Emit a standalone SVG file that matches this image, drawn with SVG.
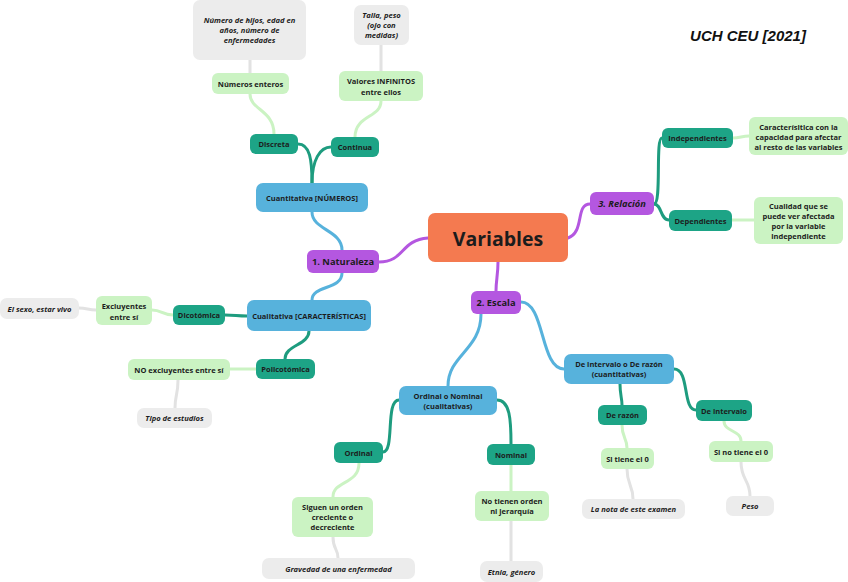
<svg xmlns="http://www.w3.org/2000/svg" width="848" height="582" viewBox="0 0 848 582">
<style>
text{font-family:"Open Sans","Noto Sans","DejaVu Sans",sans-serif;fill:#1c1c1c;text-anchor:middle;dominant-baseline:central}
.t{font-size:7.5px;font-weight:700}
.i{font-size:7.6px;font-weight:700;font-style:italic}
.l1{font-size:9.3px;font-weight:700}
.root{fill:#F47A50}
.pur{fill:#B457E0}
.blu{fill:#57B2DC}
.tea{fill:#1DA486}
.lgr{fill:#CBF3C3}
.gry{fill:#ECECEC}
.c{fill:none;stroke-linecap:round}
.cp{stroke:#B457E0;stroke-width:3}
.cb{stroke:#57B2DC;stroke-width:3}
.ct{stroke:#1E9C7F;stroke-width:3}
.cg{stroke:#CBF3C3;stroke-width:3}
.cy{stroke:#E2E2E2;stroke-width:3}
</style>
<rect width="848" height="582" fill="#ffffff"/>
<g id="connectors">
<path class="c cp" d="M428,238 C400,240 405,262 379,262"/>
<path class="c cp" d="M498,262 C498,275 496,280 496,291"/>
<path class="c cp" d="M568,238 C585,232 575,204 590,204"/>
<path class="c cb" d="M342,250 C342,230 312,230 312,212"/>
<path class="c cb" d="M342,273 C342,290 312,285 312,300"/>
<path class="c ct" d="M312,183 C312,160 310,144 298,144"/>
<path class="c ct" d="M312,183 C312,160 320,147 331,147"/>
<path class="c cg" d="M274,134 C274,110 250,110 250,94"/>
<path class="c cy" d="M250,73 L250,60"/>
<path class="c cg" d="M355,137 C355,115 381,118 381,101"/>
<path class="c cy" d="M381,71 L381,45"/>
<path class="c ct" d="M247,316 C237,316 235,315 225,315"/>
<path class="c ct" d="M309,331 C309,345 285,345 285,359"/>
<path class="c cg" d="M173,315 C162,315 162,310 152,310"/>
<path class="c cy" d="M96,310 C88,310 87,308 79,308"/>
<path class="c cg" d="M256,369 L230,369"/>
<path class="c cy" d="M178,380 C178,395 175,395 175,408"/>
<path class="c cb" d="M481,314 C481,350 448,355 448,386"/>
<path class="c cb" d="M521,302 C545,302 540,369 564,369"/>
<path class="c ct" d="M399,400 C385,400 395,452 383,452"/>
<path class="c ct" d="M497,400 C510,400 511,420 511,444"/>
<path class="c ct" d="M620,384 C620,395 622,398 622,405"/>
<path class="c ct" d="M674,369 C690,369 682,410 696,410"/>
<path class="c cg" d="M359,463 C359,485 333,480 333,497"/>
<path class="c cg" d="M511,465 L511,491"/>
<path class="c cy" d="M333,537 C333,550 338,548 338,558"/>
<path class="c cy" d="M511,521 L511,561"/>
<path class="c cg" d="M622,425 C622,438 627,438 627,448"/>
<path class="c cy" d="M627,469 C627,485 633,485 633,499"/>
<path class="c cg" d="M724,421 C724,432 741,430 741,441"/>
<path class="c cy" d="M741,462 C741,480 750,480 750,496"/>
<path class="c ct" d="M654,204 C662,204 655,138 662,138"/>
<path class="c ct" d="M654,204 C662,204 660,220 669,220"/>
<path class="c cg" d="M733,138 C740,138 742,136 749,136"/>
<path class="c cg" d="M732,220 L754,220"/>
</g>
<g id="variables"><rect class="root" x="428" y="213" width="140" height="49" rx="7"/><text x="498" y="238" style="font-size:19.5px;font-weight:700">Variables</text></g>
<g id="naturaleza"><rect class="pur" x="307" y="250" width="72" height="23" rx="6"/><text class="l1" x="343" y="261.5">1. Naturaleza</text></g>
<g id="escala"><rect class="pur" x="471" y="291" width="50" height="23" rx="6"/><text class="l1" x="496" y="302.5">2. Escala</text></g>
<g id="relacion"><rect class="pur" x="590" y="192" width="64" height="23" rx="6"/><text class="l1" x="622" y="203.5" font-style="italic">3. Relación</text></g>
<g id="cuantitativa"><rect class="blu" x="256" y="183" width="112" height="29" rx="7"/><text class="t" x="312" y="197.5">Cuantitativa [NÚMEROS]</text></g>
<g id="cualitativa"><rect class="blu" x="247" y="300" width="124" height="31" rx="7"/><text class="t" x="309" y="315.5">Cualitativa [CARACTERÍSTICAS]</text></g>
<g id="discreta"><rect class="tea" x="250" y="134" width="48" height="20" rx="6"/><text class="t" x="274" y="144">Discreta</text></g>
<g id="continua"><rect class="tea" x="331" y="137" width="48" height="20" rx="6"/><text class="t" x="355" y="147">Continua</text></g>
<g id="enteros"><rect class="lgr" x="212" y="73" width="77" height="21" rx="6"/><text class="t" x="250.5" y="83.5">Números enteros</text></g>
<g id="infinitos"><rect class="lgr" x="339" y="71" width="84" height="30" rx="6"/><text class="t" x="381" y="81">Valores INFINITOS</text><text class="t" x="381" y="92">entre ellos</text></g>
<g id="hijos"><rect class="gry" x="193" y="0" width="113" height="60" rx="7"/><text class="i" x="249.5" y="20">Número de hijos, edad en</text><text class="i" x="249.5" y="30">años, número de</text><text class="i" x="249.5" y="40">enfermedades</text></g>
<g id="talla"><rect class="gry" x="354" y="5" width="55" height="40" rx="7"/><text class="i" x="381.5" y="15">Talla, peso</text><text class="i" x="381.5" y="25">(ojo con</text><text class="i" x="381.5" y="35">medidas)</text></g>
<g id="dicotomica"><rect class="tea" x="173" y="305" width="52" height="20" rx="6"/><text class="t" x="199" y="315">Dicotómica</text></g>
<g id="policotomica"><rect class="tea" x="256" y="359" width="59" height="20" rx="6"/><text class="t" x="285.5" y="369">Policotómica</text></g>
<g id="excluyentes"><rect class="lgr" x="96" y="296" width="56" height="29" rx="6"/><text class="t" x="124" y="305.5">Excluyentes</text><text class="t" x="124" y="316.5">entre sí</text></g>
<g id="sexo"><rect class="gry" x="0" y="298" width="79" height="21" rx="7"/><text class="i" x="39.5" y="308.5">El sexo, estar vivo</text></g>
<g id="noexcluyentes"><rect class="lgr" x="128" y="359" width="102" height="21" rx="6"/><text class="t" x="179" y="369.5">NO excluyentes entre sí</text></g>
<g id="estudios"><rect class="gry" x="137" y="408" width="75" height="20" rx="7"/><text class="i" x="174.5" y="418">Tipo de estudios</text></g>
<g id="independientes"><rect class="tea" x="662" y="128" width="71" height="20" rx="6"/><text class="t" x="697.5" y="138">Independientes</text></g>
<g id="dependientes"><rect class="tea" x="669" y="210" width="63" height="21" rx="6"/><text class="t" x="700.5" y="220.5">Dependientes</text></g>
<g id="caracteristica"><rect class="lgr" x="749" y="117" width="99" height="38" rx="6"/><text class="t" x="798.5" y="126.5">Caracterísitica con la</text><text class="t" x="798.5" y="136.5">capacidad para afectar</text><text class="t" x="798.5" y="146.5">al resto de las variables</text></g>
<g id="cualidad"><rect class="lgr" x="754" y="197" width="89" height="47" rx="6"/><text class="t" x="798.5" y="205.5">Cualidad que se</text><text class="t" x="798.5" y="215.5">puede ver afectada</text><text class="t" x="798.5" y="225.5">por la variable</text><text class="t" x="798.5" y="235.5">independiente</text></g>
<g id="ordinalnominal"><rect class="blu" x="399" y="386" width="98" height="29" rx="7"/><text class="t" x="448" y="395.5">Ordinal o Nominal</text><text class="t" x="448" y="405.5">(cualitativas)</text></g>
<g id="intervalorazon"><rect class="blu" x="564" y="354" width="110" height="30" rx="7"/><text class="t" x="619" y="364">De intervalo o De razón</text><text class="t" x="619" y="374">(cuantitativas)</text></g>
<g id="ordinal"><rect class="tea" x="334" y="442" width="49" height="21" rx="6"/><text class="t" x="358.5" y="452.5">Ordinal</text></g>
<g id="nominal"><rect class="tea" x="487" y="444" width="48" height="21" rx="6"/><text class="t" x="511" y="454.5">Nominal</text></g>
<g id="derazon"><rect class="tea" x="598" y="405" width="49" height="20" rx="6"/><text class="t" x="622.5" y="415">De razón</text></g>
<g id="deintervalo"><rect class="tea" x="696" y="400" width="56" height="21" rx="6"/><text class="t" x="724" y="410.5">De intervalo</text></g>
<g id="siguen"><rect class="lgr" x="292" y="497" width="81" height="40" rx="6"/><text class="t" x="332.5" y="507">Siguen un orden</text><text class="t" x="332.5" y="517">creciente o</text><text class="t" x="332.5" y="527">decreciente</text></g>
<g id="notienen"><rect class="lgr" x="475" y="491" width="74" height="30" rx="6"/><text class="t" x="512" y="501">No tienen orden</text><text class="t" x="512" y="511">ni jerarquía</text></g>
<g id="sitiene"><rect class="lgr" x="601" y="448" width="53" height="21" rx="6"/><text class="t" x="627.5" y="458.5">Si tiene el 0</text></g>
<g id="sinotiene"><rect class="lgr" x="709" y="441" width="64" height="21" rx="6"/><text class="t" x="741" y="451.5">Si no tiene el 0</text></g>
<g id="gravedad"><rect class="gry" x="262" y="558" width="153" height="21" rx="7"/><text class="i" x="338.5" y="568.5">Gravedad de una enfermedad</text></g>
<g id="etnia"><rect class="gry" x="480" y="561" width="63" height="21" rx="7"/><text class="i" x="511.5" y="571.5">Etnia, género</text></g>
<g id="nota"><rect class="gry" x="582" y="499" width="103" height="20" rx="7"/><text class="i" x="633.5" y="509">La nota de este examen</text></g>
<g id="peso"><rect class="gry" x="726" y="496" width="48" height="20" rx="7"/><text class="i" x="750" y="506">Peso</text></g>
<text x="748" y="35" style="font-family:'Liberation Sans',Arial,sans-serif;font-size:15px;font-weight:700;font-style:italic;fill:#111">UCH CEU [2021]</text>
</svg>
